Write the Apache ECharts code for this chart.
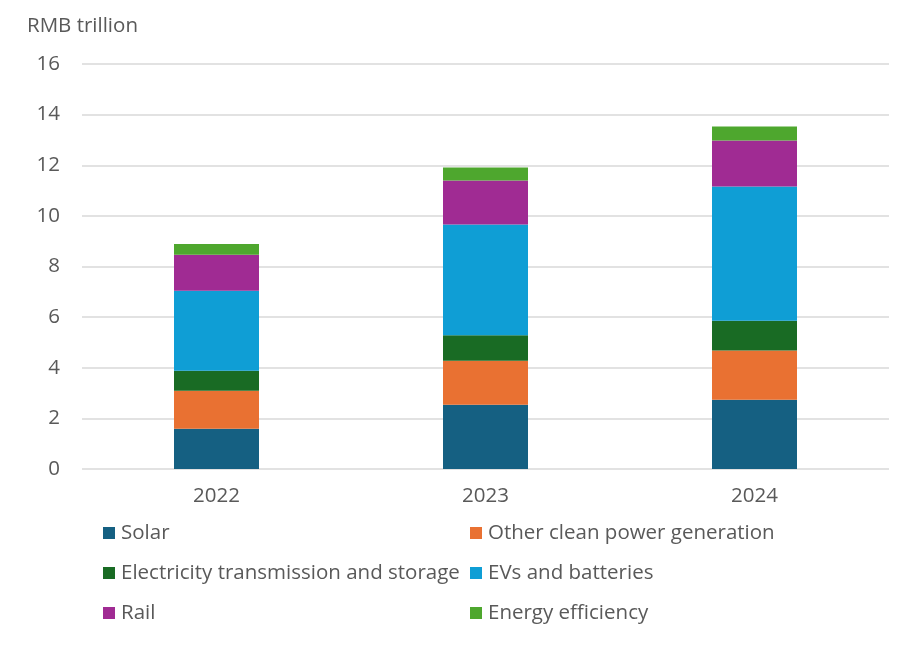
<!DOCTYPE html>
<html>
<head>
<meta charset="utf-8">
<script src="https://cdn.jsdelivr.net/npm/echarts@6/dist/echarts.min.js"></script>
<style>
  html, body { margin: 0; padding: 0; background: #fff; }
  #chart { width: 914px; height: 654px; }
</style>
</head>
<body>
<div id="chart"></div>
<script>
// categories and stacked values (RMB trillion)
var years = ['2022', '2023', '2024'];
var solar = [1.59, 2.54, 2.74];
var otherClean = [1.50, 1.74, 1.94];
var transmission = [0.79, 1.00, 1.18];
var evs = [3.16, 4.38, 5.30];
var rail = [1.42, 1.74, 1.82];
var efficiency = [0.43, 0.51, 0.55];

var seriesNames = ['Solar', 'Other clean power generation', 'Electricity transmission and storage',
    'EVs and batteries', 'Rail', 'Energy efficiency'];
var seriesData = [solar, otherClean, transmission, evs, rail, efficiency];
var colors = ['#156082', '#E97132', '#196B24', '#0F9ED5', '#A02B93', '#4EA72E'];

var fontFamily = '"Open Sans", Lato, sans-serif';
var fontSize = 20.5;
var textColor = '#595959';

var series = [];
seriesNames.forEach(function (name, i) {
    series.push({
        name: name,
        type: 'bar',
        stack: 'total',
        barWidth: 85,
        itemStyle: {color: colors[i]},
        data: seriesData[i]
    });
});

// legend laid out as two vertical columns
function legendBlock(names, left) {
    return {
        orient: 'vertical',
        left: left,
        top: 522,
        padding: 0,
        itemWidth: 12,
        itemHeight: 12,
        itemGap: 18,
        icon: 'rect',
        selectedMode: false,
        data: names,
        textStyle: {fontFamily: fontFamily, fontSize: fontSize, color: textColor, lineHeight: 22, padding: [0, 0, 0, 1]}
    };
}

var chart = echarts.init(document.getElementById('chart'));
chart.setOption({
    animation: false,
    color: colors,
    title: {
        text: 'RMB trillion',
        left: 27,
        top: 16,
        padding: 0,
        textStyle: {fontFamily: fontFamily, fontSize: fontSize, fontWeight: 'normal', color: textColor}
    },
    legend: [
        legendBlock([seriesNames[0], seriesNames[2], seriesNames[4]], 103),
        legendBlock([seriesNames[1], seriesNames[3], seriesNames[5]], 470)
    ],
    grid: {left: 82, right: 25, top: 64, bottom: 185, containLabel: false},
    xAxis: {
        type: 'category',
        data: years,
        axisLine: {show: false},
        axisTick: {show: false},
        axisLabel: {fontFamily: fontFamily, fontSize: fontSize, color: textColor, margin: 17}
    },
    yAxis: {
        type: 'value',
        min: 0,
        max: 16,
        interval: 2,
        axisLine: {show: false},
        axisTick: {show: false},
        axisLabel: {fontFamily: fontFamily, fontSize: fontSize, color: textColor, margin: 22},
        splitLine: {lineStyle: {color: '#d9d9d9', width: 1.5}}
    },
    series: series
});
</script>
</body>
</html>
